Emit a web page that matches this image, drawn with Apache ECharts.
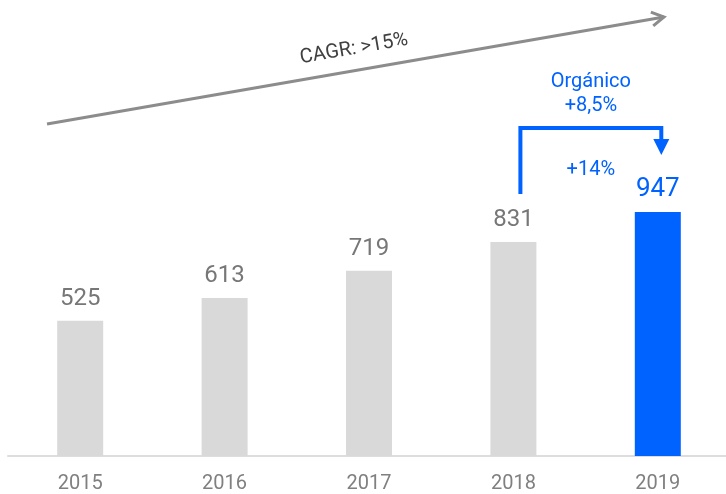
<!DOCTYPE html>
<html>
<head>
<meta charset="utf-8">
<script src="https://cdn.jsdelivr.net/npm/echarts@6/dist/echarts.min.js"></script>
<style>
  html, body { margin: 0; padding: 0; background: #fff; overflow: hidden; }
  #chart { width: 733px; height: 494px; }
</style>
</head>
<body>
<div id="chart"></div>
<script>
// 年份与数值
const years = ['2015', '2016', '2017', '2018', '2019'];
const values = [525, 613, 719, 831, 947];
const highlightYear = '2019';

const GRAY_BAR = '#d9d9d9';
const BLUE = '#0062ff';
const FONT = 'Roboto, "Liberation Sans", sans-serif';

const chart = echarts.init(document.getElementById('chart'));

// 柱子数据：最后一年高亮蓝色
const barData = values.map((v, i) => {
  const hi = years[i] === highlightYear;
  return {
    value: v,
    itemStyle: { color: hi ? BLUE : GRAY_BAR },
    label: { color: hi ? BLUE : '#777777', fontSize: hi ? 26 : 24 }
  };
});

chart.setOption({
  animation: false,
  grid: { left: 8, right: 3, top: 18, bottom: 36 },
  xAxis: {
    type: 'category',
    data: years,
    axisLine: { lineStyle: { color: '#dddddd', width: 2 } },
    axisTick: { show: false },
    axisLabel: { color: '#808080', fontSize: 20, fontFamily: FONT, margin: 18 }
  },
  yAxis: {
    type: 'value',
    min: 0,
    max: 1700,
    show: false,
    splitLine: { show: false }
  },
  series: [{
    type: 'bar',
    data: barData,
    barWidth: 46,
    label: { show: true, position: 'top', distance: 10, fontFamily: FONT }
  }]
});

// 注释：CAGR 箭头与有机增长括号
function drawAnnotations() {
  const p18 = chart.convertToPixel({ seriesIndex: 0 }, [3, 831]);
  const p19 = chart.convertToPixel({ seriesIndex: 0 }, [4, 947]);
  const lx = p18[0] + 7;
  const rx = p19[0] + 3.5;
  const topY = 128;
  const lowY = p18[1] - 48;
  const midX = (lx + rx) / 2;

  const x0 = 47, y0 = 124, x1 = 664, y1 = 17;
  const ang = Math.atan2(y0 - y1, x1 - x0);
  const ah = 14; // 箭头长度
  const a1 = ang + Math.PI / 6, a2 = ang - Math.PI / 6;
  const blueText = (txt, y) => ({
    type: 'text', x: midX, y,
    style: { text: txt, fill: BLUE, font: '20px ' + FONT, align: 'center', verticalAlign: 'middle' }
  });

  chart.setOption({
    graphic: [
      { type: 'line', shape: { x1: x0, y1: y0, x2: x1, y2: y1 },
        style: { stroke: '#8c8c8c', lineWidth: 3 } },
      { type: 'polyline',
        shape: { points: [
          [x1 - ah * Math.cos(a1), y1 + ah * Math.sin(a1)],
          [x1, y1],
          [x1 - ah * Math.cos(a2), y1 + ah * Math.sin(a2)]
        ] },
        style: { stroke: '#8c8c8c', lineWidth: 3, fill: null } },
      { type: 'text', x: 354, y: 49, rotation: ang,
        style: { text: 'CAGR: >15%', fill: '#404040', font: '20px ' + FONT,
          align: 'center', verticalAlign: 'middle' } },
      { type: 'polyline',
        shape: { points: [[lx, lowY], [lx, topY], [rx, topY], [rx, 142]] },
        style: { stroke: BLUE, lineWidth: 4, fill: null } },
      { type: 'polygon',
        shape: { points: [[rx - 8, 139], [rx + 8, 139], [rx, 155]] },
        style: { fill: BLUE } },
      blueText('Orgánico', 82),
      blueText('+8,5%', 106),
      blueText('+14%', 170)
    ]
  });
}
drawAnnotations();
</script>
</body>
</html>
